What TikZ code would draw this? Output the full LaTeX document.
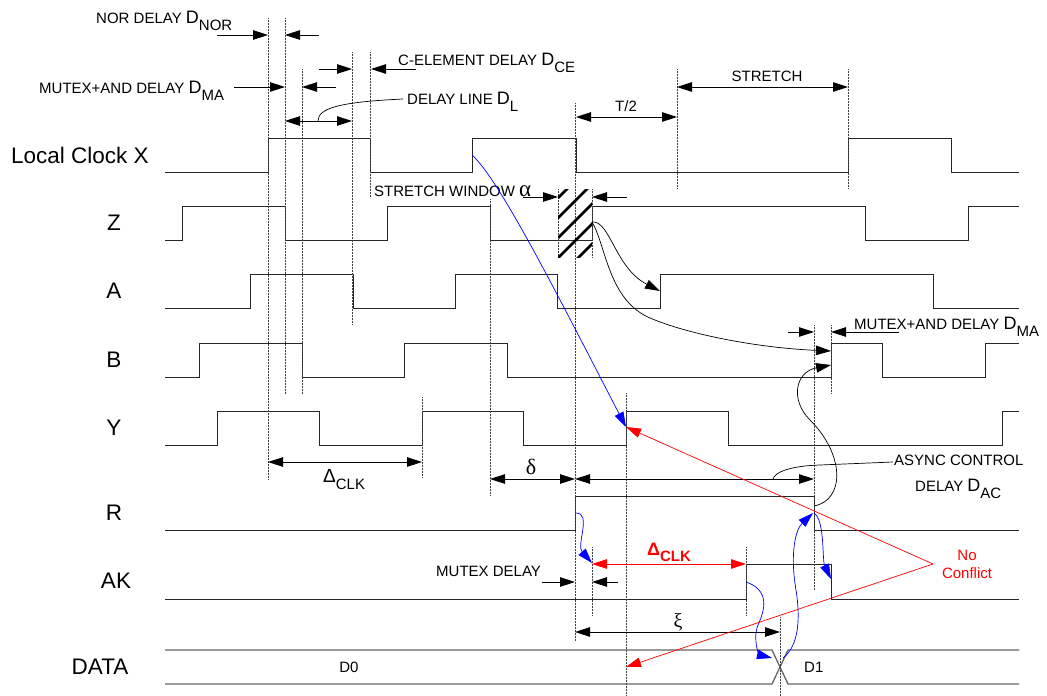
\documentclass[tikz,border=0pt]{standalone}
\usepackage{fontspec}
\setmainfont{Liberation Sans}
\newfontfamily\greekfont{Liberation Serif}
\usetikzlibrary{arrows.meta}

\newcommand{\lblsize}{\fontsize{15}{18}\selectfont}
\newcommand{\DelayD}[1]{{\fontsize{18}{18}\selectfont D}\raisebox{-7pt}{#1}}

\begin{document}
\begin{tikzpicture}
  [x=1pt, y=-1pt, >={Triangle[length=15pt,width=9.5pt]},
   sig/.style={line width=0.9pt, black!85},
   bus/.style={line width=1.3pt, black!60},
   guide/.style={line width=0.5pt, densely dotted, black!75},
   dimline/.style={line width=0.8pt, black},
   hatchline/.style={line width=2.6pt, black},
   cause/.style={->, line width=0.7pt, black},
   bluecause/.style={->, line width=0.7pt, blue},
   redcause/.style={->, line width=0.7pt, red},
   lbl/.style={font=\lblsize, inner sep=0pt},
   siglbl/.style={font=\fontsize{22.5}{27}\selectfont, inner sep=0pt}]
  \useasboundingbox (0,0) rectangle (1047,696);

  % signal names
  \node[siglbl] (clkname) at (80,155) {Local Clock X};
  \node[siglbl] (zname) at (114,223) {Z};
  \node[siglbl] (aname) at (114,291) {A};
  \node[siglbl] (bname) at (114,360) {B};
  \node[siglbl] (yname) at (114,428) {Y};
  \node[siglbl] (rname) at (114,513) {R};
  \node[siglbl] (akname) at (116,581) {AK};
  \node[siglbl] (dataname) at (100,667) {DATA};

  % waveforms
  \draw[sig] (165,172) -| (268,138) -| (370,172) -| (472,138) -| (576,172) -| (848,138) -| (951,172) -- (1019,172);
  \draw[sig] (165,240) -| (182,206) -| (285,240) -| (387,206) -| (490,240) -| (592,206) -| (865,240) -| (968,206) -- (1019,206);
  \draw[sig] (165,308) -| (250,274) -| (353,308) -| (455,274) -| (557,308) -| (660,274) -| (933,308) -- (1019,308);
  \draw[sig] (165,377) -| (199,343) -| (302,377) -| (404,343) -| (507,377) -| (831,343) -| (882,377) -| (985,343) -- (1019,343);
  \draw[sig] (165,445) -| (217,411) -| (319,445) -| (422,411) -| (523,445) -| (626,411) -| (728,445) -| (1002,411) -- (1019,411);
  \draw[sig] (165,530) -| (575,496) -| (814,530) -- (1019,530);
  \draw[sig] (165,599) -| (746,564) -| (831,599) -- (1019,599);
  \draw[bus] (165,650) -- (772,650) -- (788,684) -- (1019,684);
  \draw[bus] (165,684) -- (772,684) -- (788,650) -- (1019,650);

  % timing guides
  \foreach \gx/\gt/\gb in {268/18/479, 285/18/394, 302/69/394, 352/52/325, 370/52/197,
      422/397/478, 490/199/496, 575/103/641, 677/69/188, 848/69/188, 558/189/257,
      592/189/257, 626/393/696, 814/325/590, 831/325/394, 592/547/615, 746/547/616, 780/617/696}
    \draw[guide] (\gx,\gt) -- (\gx,\gb);

  % stretch window
  \begin{scope}
    \clip (558,189) rectangle (592,257);
    \foreach \hy in {198,218,...,278}
      \draw[hatchline] (558,\hy) -- ++(45,-45);
  \end{scope}

  % labels
  \node[lbl, anchor=base west] (nordelay) at (96,23.3) {NOR DELAY \DelayD{NOR}};
  \node[lbl, anchor=base west] (maleft) at (39,93.3) {MUTEX+AND DELAY \DelayD{MA}};
  \node[lbl, anchor=base west] (celem) at (398,65.7) {C-ELEMENT DELAY \DelayD{CE}};
  \node[lbl, anchor=base west] (dline) at (407,104) {DELAY LINE \DelayD{L}};
  \node[lbl, anchor=base] (halfT) at (626,111) {T/2};
  \node[lbl, anchor=base] (stretch) at (767,81.7) {STRETCH};
  \node[lbl, anchor=base west] (window) at (374,196) {STRETCH WINDOW {\greekfont\fontsize{23}{23}\selectfont α}};
  \node[lbl, anchor=base west] (maright) at (854,329) {MUTEX+AND DELAY \DelayD{MA}};
  \node[lbl, anchor=base west] (async) at (894,465.7) {ASYNC CONTROL};
  \node[lbl, anchor=base west] (dac) at (915,491.7) {DELAY \DelayD{AC}};
  \node[lbl, anchor=base west] (mutex) at (436,576.7) {MUTEX DELAY};
  \node[lbl, anchor=base] (dzero) at (349,672) {D0};
  \node[lbl, anchor=base west] (done) at (804,672.3) {D1};
  \node[lbl, red, align=center] (noconf) at (967,564) {No\\Conflict};
  \node[inner sep=0pt, font=\greekfont\fontsize{22}{22}\selectfont] (delta) at (531,467) {δ};
  \node[inner sep=0pt, font=\greekfont\fontsize{20}{20}\selectfont] (xi) at (678,622) {ξ};
  \node[lbl, anchor=base west] (dclk) at (323,482.7) {{\fontsize{19}{19}\selectfont Δ}\raisebox{-7pt}{CLK}};
  \node[lbl, anchor=base west, red, font=\lblsize\bfseries] (dclkred) at (647,555) {{\fontsize{18}{18}\selectfont Δ}\raisebox{-6.7pt}{CLK}};

  % dimension arrows
  \coordinate (norA) at (217,35); \coordinate (norB) at (268,35);
  \coordinate (norC) at (319,35); \coordinate (norD) at (285,35);
  \coordinate (maA) at (234,87); \coordinate (maB) at (285,87);
  \coordinate (maC) at (336,87); \coordinate (maD) at (302,87);
  \coordinate (ceA) at (319,69); \coordinate (ceB) at (352,69);
  \coordinate (ceC) at (416,69); \coordinate (ceD) at (371,69);
  \coordinate (dlA) at (285,121); \coordinate (dlB) at (352,121);
  \coordinate (t2A) at (576,117); \coordinate (t2B) at (677,117);
  \coordinate (stA) at (677,87); \coordinate (stB) at (848,87);
  \coordinate (swA) at (523,197); \coordinate (swB) at (558,197);
  \coordinate (swC) at (627,197); \coordinate (swD) at (592,197);
  \coordinate (dkA) at (268,462); \coordinate (dkB) at (422,462);
  \coordinate (dtA) at (490,479); \coordinate (dtB) at (575,479); \coordinate (dacB) at (814,479);
  \coordinate (mrA) at (788,332); \coordinate (mrB) at (814,332);
  \coordinate (mrC) at (899,332); \coordinate (mrD) at (831,332);
  \coordinate (mxA) at (542,582); \coordinate (mxB) at (575,582);
  \coordinate (mxC) at (618,582); \coordinate (mxD) at (592,582);
  \coordinate (xiA) at (575,632); \coordinate (xiB) at (780,632);
  \coordinate (rkA) at (592,564); \coordinate (rkB) at (746,564);

  \draw[dimline, ->] (norA) -- (norB);
  \draw[dimline, ->] (norC) -- (norD);
  \draw[dimline, ->] (maA) -- (maB);
  \draw[dimline, ->] (maC) -- (maD);
  \draw[dimline, ->] (ceA) -- (ceB);
  \draw[dimline, ->] (ceC) -- (ceD);
  \draw[dimline, <->] (dlA) -- (dlB);
  \draw[dimline, <->] (t2A) -- (t2B);
  \draw[dimline, <->] (stA) -- (stB);
  \draw[dimline, ->] (swA) -- (swB);
  \draw[dimline, ->] (swC) -- (swD);
  \draw[dimline, <->] (dkA) -- (dkB);
  \draw[dimline, <->] (dtA) -- (dtB);
  \draw[dimline, <->] (dtB) -- (dacB);
  \draw[dimline, ->] (mrA) -- (mrB);
  \draw[dimline, ->] (mrC) -- (mrD);
  \draw[dimline, ->] (mxA) -- (mxB);
  \draw[dimline, ->] (mxC) -- (mxD);
  \draw[dimline, <->] (xiA) -- (xiB);
  \draw[dimline, <->, red] (rkA) -- (rkB);

  % leader lines
  \coordinate (dlC) at (403,99); \coordinate (dlM) at (318,121);
  \coordinate (asC) at (893,462); \coordinate (asK) at (820,465); \coordinate (asE) at (773,479);
  \draw[line width=0.7pt] (dlC) .. controls (340,102) and (318,108) .. (dlM);
  \draw[line width=0.7pt] (asC) -- (asK) .. controls (790,466) and (775,472) .. (asE);

  % causality (black)
  \coordinate (zw) at (592,222); \coordinate (arise) at (660,291);
  \coordinate (zmid) at (650,318); \coordinate (brise) at (831,351);
  \coordinate (rfall) at (814,506); \coordinate (smid) at (810,420); \coordinate (brise2) at (831,365);
  \draw[cause] (zw) .. controls (610,220) and (615,268) .. (arise);
  \draw[cause] (zw) .. controls (606,245) and (608,300) .. (zmid) .. controls (690,335) and (760,348) .. (brise);
  \draw[cause] (rfall) .. controls (845,500) and (845,455) .. (smid) .. controls (790,400) and (795,372) .. (brise2);

  % causality (blue)
  \coordinate (xrise) at (472,155); \coordinate (yrise) at (626,427);
  \coordinate (rrise) at (576,513); \coordinate (akmx) at (592,563);
  \coordinate (akrise) at (746,582); \coordinate (bmid) at (758,625); \coordinate (dxl) at (772,658);
  \coordinate (dxr) at (783,658); \coordinate (bmid2) at (796,590); \coordinate (rlow) at (813,513);
  \coordinate (rlow2) at (814,513); \coordinate (akfall) at (831,579);
  \draw[bluecause] (xrise) .. controls (500,180) and (560,300) .. (yrise);
  \draw[bluecause] (rrise) .. controls (592,513) and (576,545) .. (akmx);
  \draw[bluecause] (akrise) .. controls (770,590) and (765,610) .. (bmid) .. controls (752,640) and (760,655) .. (dxl);
  \draw[bluecause] (dxr) .. controls (800,645) and (800,615) .. (bmid2) .. controls (790,555) and (795,530) .. (rlow);
  \draw[bluecause] (rlow2) .. controls (825,520) and (822,560) .. (akfall);

  % no conflict
  \coordinate (nc) at (933,564); \coordinate (dred) at (626,667);
  \draw[redcause] (nc) -- (yrise);
  \draw[redcause] (nc) -- (dred);
\end{tikzpicture}
\end{document}
